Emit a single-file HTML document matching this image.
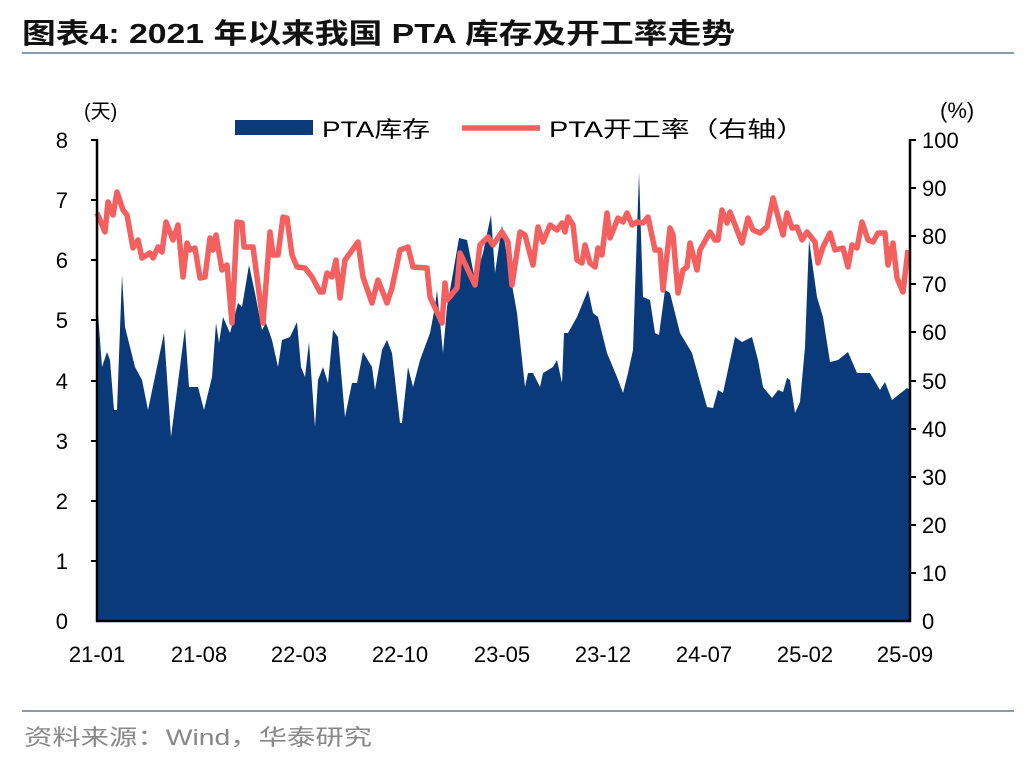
<!DOCTYPE html>
<html><head><meta charset="utf-8"><style>
body{margin:0;background:#fff;width:1036px;height:760px;overflow:hidden;font-family:"Liberation Sans","Noto Sans CJK SC",sans-serif}
</style></head><body>
<svg width="1036" height="760" xmlns="http://www.w3.org/2000/svg" font-family="Liberation Sans, Noto Sans CJK SC, sans-serif">
<text x="22" y="43" font-size="28" font-weight="bold" fill="#111" textLength="713" lengthAdjust="spacingAndGlyphs">图表4:  2021 年以来我国 PTA 库存及开工率走势</text>
<line x1="22" y1="53" x2="1014" y2="53" stroke="#8a9bb0" stroke-width="2"/>
<line x1="22" y1="711" x2="1014" y2="711" stroke="#8a9bb0" stroke-width="2"/>
<text x="24" y="745" font-size="22" fill="#888" textLength="348" lengthAdjust="spacingAndGlyphs">资料来源：Wind，华泰研究</text>
<polygon fill="#0a3a7a" points="97,621 97,300 102,367 107,352 110,360 114,410 117,410 122,275 125,327 135,367 142,380 148,410 157,367 164,333 171,437 185,328 189,387 198,387 204,410 212,377 216,323 219,343 223,317 230,333 238,303 242,307 249,265 255,293 262,330 266,323 272,340 278,367 282,340 290,337 297,322 301,367 305,377 309,342 315,427 318,380 323,367 328,383 333,330 338,337 345,417 352,383 357,383 363,352 372,367 375,390 382,350 387,340 392,353 400,423 402,423 408,367 413,387 420,360 430,333 435,307 437,290 443,353 447,307 453,273 459,238 467,240 475,280 483,253 491,215 495,273 502,225 507,257 517,313 525,387 528,373 533,373 540,387 543,373 553,367 557,360 562,383 564,333 568,333 577,317 588,290 593,313 598,317 607,353 617,377 623,393 628,373 633,350 639,172 643,297 650,300 655,333 659,335 665,290 670,293 680,333 692,353 707,407 713,408 718,390 723,393 735,337 742,342 752,337 758,360 763,387 772,398 778,390 783,392 787,378 790,380 795,413 800,402 805,347 809,240 817,297 823,317 830,362 838,360 848,352 857,373 870,373 880,390 885,382 892,400 902,392 907,388 910,390 910,621"/>
<polyline fill="none" stroke="#f4605f" stroke-width="5.5" stroke-linejoin="round" points="97,213 105,232 108,202 113,215 117,192 123,210 127,215 133,248 138,240 142,258 150,253 153,258 158,247 162,252 166,222 173,240 178,225 183,277 187,243 190,250 195,248 200,278 205,277 210,238 213,250 216,235 222,270 227,265 232,323 237,222 242,223 244,247 253,247 257,277 263,323 270,232 273,255 278,255 283,217 287,218 292,255 297,267 305,268 312,277 320,292 323,292 327,273 332,277 336,260 340,298 345,260 358,242 363,277 372,303 378,280 387,303 392,288 400,250 408,247 413,267 427,268 430,297 442,323 445,283 447,300 457,288 460,253 475,285 480,245 488,237 493,245 502,232 508,242 512,285 520,232 525,235 533,265 538,227 543,242 550,225 557,230 562,223 565,232 568,217 573,225 577,260 582,263 585,245 590,263 595,267 598,248 602,255 607,213 610,238 618,218 623,222 627,213 632,225 637,222 643,223 648,217 655,250 660,250 663,290 670,228 673,235 678,293 683,270 687,267 690,243 697,270 700,250 710,232 715,240 718,240 722,210 727,223 730,212 742,243 748,218 753,230 760,233 767,227 773,198 783,235 787,213 792,228 797,227 802,240 807,232 815,242 818,263 823,247 830,233 835,250 843,248 848,267 852,245 857,248 862,222 868,240 873,242 878,233 885,233 888,265 893,243 897,278 903,292 908,250"/>
<g stroke="#000" stroke-width="2.5">
<line x1="97" y1="139" x2="97" y2="622"/><line x1="910" y1="139" x2="910" y2="622"/><line x1="96" y1="621" x2="911" y2="621"/>
</g>
<g stroke="#000" stroke-width="2">
<line x1="91" y1="140" x2="97" y2="140"/><line x1="91" y1="200" x2="97" y2="200"/><line x1="91" y1="260" x2="97" y2="260"/><line x1="91" y1="320" x2="97" y2="320"/><line x1="91" y1="381" x2="97" y2="381"/><line x1="91" y1="441" x2="97" y2="441"/><line x1="91" y1="501" x2="97" y2="501"/><line x1="91" y1="561" x2="97" y2="561"/>
<line x1="910" y1="140" x2="916" y2="140"/><line x1="910" y1="188" x2="916" y2="188"/><line x1="910" y1="236" x2="916" y2="236"/><line x1="910" y1="284" x2="916" y2="284"/><line x1="910" y1="332" x2="916" y2="332"/><line x1="910" y1="381" x2="916" y2="381"/><line x1="910" y1="429" x2="916" y2="429"/><line x1="910" y1="477" x2="916" y2="477"/><line x1="910" y1="525" x2="916" y2="525"/><line x1="910" y1="573" x2="916" y2="573"/>
</g>
<g font-size="22" fill="#000" text-anchor="end">
<text x="68" y="148">8</text><text x="68" y="208">7</text><text x="68" y="268">6</text><text x="68" y="328">5</text><text x="68" y="389">4</text><text x="68" y="449">3</text><text x="68" y="509">2</text><text x="68" y="569">1</text><text x="68" y="629">0</text>
</g>
<g font-size="22" fill="#000" text-anchor="start">
<text x="922" y="148">100</text><text x="922" y="196">90</text><text x="922" y="244">80</text><text x="922" y="292">70</text><text x="922" y="340">60</text><text x="922" y="389">50</text><text x="922" y="437">40</text><text x="922" y="485">30</text><text x="922" y="533">20</text><text x="922" y="581">10</text><text x="922" y="629">0</text>
<text x="940" y="118">(%)</text>
<text x="84" y="118" font-size="20">(天)</text>
</g>
<g font-size="22" fill="#000" text-anchor="middle">
<text x="97" y="662">21-01</text><text x="199" y="662">21-08</text><text x="299" y="662">22-03</text><text x="400" y="662">22-10</text><text x="502" y="662">23-05</text><text x="603" y="662">23-12</text><text x="704" y="662">24-07</text><text x="805" y="662">25-02</text><text x="905" y="662">25-09</text>
</g>
<rect x="235" y="120" width="78" height="15" fill="#0a3a7a"/>
<text x="322" y="137" font-size="22" textLength="108" lengthAdjust="spacingAndGlyphs">PTA库存</text>
<line x1="462" y1="128" x2="540" y2="128" stroke="#f4605f" stroke-width="5.5"/>
<text x="549" y="137" font-size="22" textLength="256" lengthAdjust="spacingAndGlyphs">PTA开工率（右轴）</text>
</svg>
</body></html>
